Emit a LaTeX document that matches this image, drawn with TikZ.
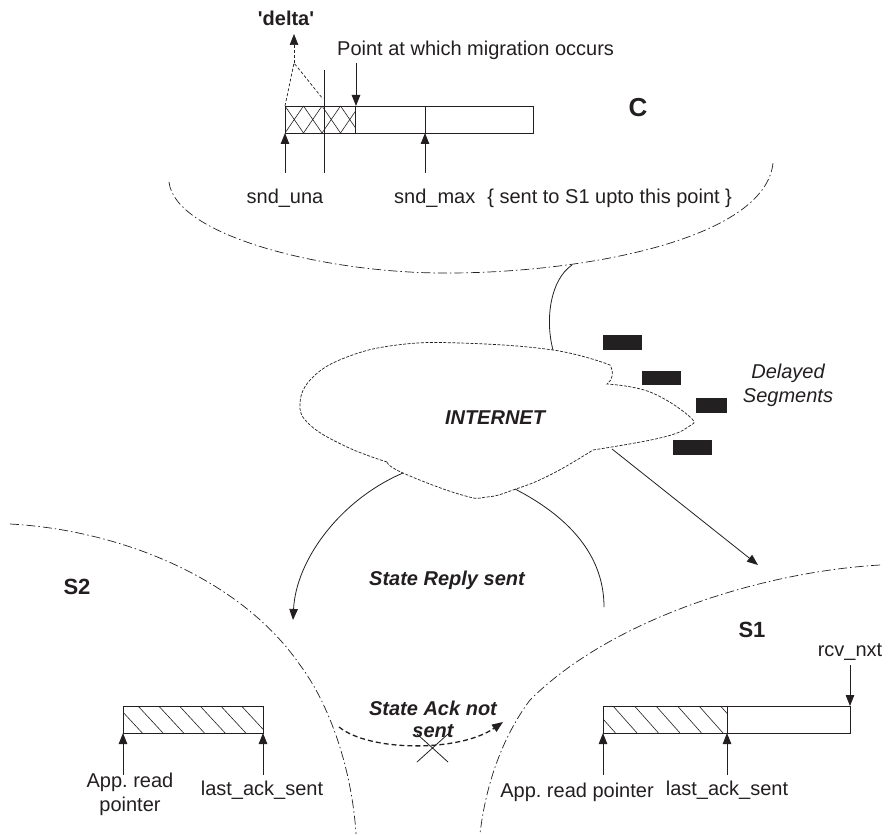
\documentclass[tikz,border=0pt]{standalone}
\usepackage{fontspec}
\setmainfont{Liberation Sans}
\usetikzlibrary{arrows.meta}
\definecolor{ink}{RGB}{35,31,32}
\definecolor{segc}{RGB}{34,32,33}
\frenchspacing
\begin{document}
\begin{tikzpicture}[x=1pt,y=-1pt,
  txt/.style={font=\fontsize{20}{24}\selectfont, text=ink, inner sep=0pt},
  bld/.style={font=\fontsize{20}{24}\selectfont\bfseries, text=ink, inner sep=0pt},
  bit/.style={font=\fontsize{20}{24}\selectfont\bfseries\itshape, text=ink, inner sep=0pt},
  itl/.style={font=\fontsize{20}{24}\selectfont\itshape, text=ink, inner sep=0pt, align=center},
  big/.style={font=\fontsize{22}{26}\selectfont\bfseries, text=ink, inner sep=0pt},
  line/.style={draw=ink, line width=0.8pt},
  hatch/.style={draw=ink, line width=0.6pt},
  tip/.style={-{Triangle[length=11pt,width=8.5pt]}},
  dashdot/.style={draw=ink, line width=0.7pt, dash pattern=on 9pt off 3pt on 1.5pt off 3pt},
  dl/.style={draw=ink, line width=0.7pt, dash pattern=on 3pt off 2pt},
  cloudline/.style={draw=ink, line width=0.7pt, dash pattern=on 3pt off 1.5pt},
  ackline/.style={draw=ink, line width=1.3pt, dash pattern=on 5pt off 3pt},
  seg/.style={fill=segc}
]
\useasboundingbox (0,0) rectangle (890,834);

% ---------------- C side ----------------
\node[font=\fontsize{26}{30}\selectfont\bfseries, text=ink, inner sep=0pt] (C) at (638,108) {C};
\node[bld] (delta) at (286,18) {\textquotesingle delta\textquotesingle};
\node[txt, anchor=west] (pam) at (337,50) {Point at which migration occurs};
\node[txt] (sndu) at (285,198) {snd\_una};
\node[txt, anchor=west] (sndm) at (394,198) {snd\_max\hspace{0.6em}\{ sent to S1 upto this point \}};

% cross-hatched part
\begin{scope}
  \clip (285,106) rectangle (355,133);
  \foreach \k in {-1,...,5} {
    \draw[hatch] ({285+18.5*\k},106) -- ++(18.5,27);
    \draw[hatch] ({285+18.5*\k},106) -- ++(-18.5,27);
  }
\end{scope}
\draw[line] (285,106) rectangle (533,133);
\draw[line] (355,106) -- (355,133);

\coordinate (dApex) at (294,63);
\coordinate (dTip) at (294,34);
\draw[dl, tip] (dApex) -- (dTip);
\draw[dl] (285,106) -- (dApex) -- (323,99);

\draw[line] (324,70) -- (324,173);
\draw[line, tip] (356,63) -- (356,106);
\draw[line, tip] (285,173) -- (285,133);
\draw[line, tip] (425,173) -- (425,133);
\draw[line] (425,133) -- (425,106);

% C boundary arc
\coordinate (arcJoin) at (572,265);
\draw[dashdot] (169,182) .. controls (175,235) and (320,272) .. (440,273)
               .. controls (580,274) and (765,240) .. (773,163);

% ---------------- Internet ----------------
\coordinate (cTop) at (553,350);
\draw[line] (arcJoin) .. controls (550,280) and (545,320) .. (cTop);

\draw[cloudline] (387,462)
  plot[smooth, tension=0.7] coordinates {(387,462) (347,447) (310,425) (300,403) (313,377) (347,357) (397,345) (460,343) (553,350) (610,365)}
  .. controls (614,372) and (613,380) .. (607,384)
  -- plot[smooth, tension=0.7] coordinates {(607,384) (650,392) (690,417) (688,427) (660,438) (593,450)}
  -- plot[smooth, tension=0.8] coordinates {(593,450) (550,475) (513,490) (487,497) (462,495) (403,473) (387,462)};
\node[bit] (net) at (495,418) {INTERNET};

% delayed segments
\path[seg] (603,335) rectangle (642,350);
\path[seg] (642,371) rectangle (681,385);
\path[seg] (696,398) rectangle (727,413);
\path[seg] (673,440) rectangle (712,455);
\node[itl] (delayed) at (788,385) {Delayed\\Segments};

% connectors out of the cloud
\coordinate (cl) at (403,473);
\coordinate (s2tip) at (293,620);
\draw[line, tip] (cl) .. controls (340,500) and (296,560) .. (s2tip);
\coordinate (cr) at (515,489);
\coordinate (crEnd) at (604,607);
\draw[line] (cr) .. controls (575,520) and (604,560) .. (crEnd);
\coordinate (cs) at (612,449);
\coordinate (s1tip) at (758,565);
\draw[line, tip] (cs) -- (s1tip);

\node[bit] (reply) at (447,580) {State Reply sent};

% ---------------- S2 / S1 boundaries ----------------
\draw[dashdot] (10,524) .. controls (120,530) and (240,578) .. (300,665)
               .. controls (330,705) and (352,770) .. (356,834);
\draw[dashdot] (880,565) .. controls (760,572) and (610,620) .. (530,700)
               .. controls (500,740) and (485,790) .. (480,834);

\node[big] (S2) at (77,587) {S2};
\node[big] (S1) at (752,630) {S1};

% State Ack not sent
\node[bit] (ack1) at (433,708) {State Ack not};
\node[bit] (ack2) at (433,731) {sent};
\coordinate (ackS) at (339,727);
\coordinate (ackE) at (503,722);
\draw[ackline, tip] (ackS) .. controls (370,752) and (460,752) .. (ackE);
\draw[line] (417,734) -- (448,762) (448,734) -- (417,762);

% ---------------- S2 buffer ----------------
\begin{scope}
  \clip (123,706) rectangle (263,733);
  \foreach \k in {-2,...,7} {
    \draw[hatch] ({138+20.7*\k},706) -- ++(25,27);
  }
\end{scope}
\draw[line] (123,706) rectangle (263,733);
\draw[line, tip] (123,775) -- (123,733);
\draw[line, tip] (263,775) -- (263,733);
\node[txt, align=center] (app2) at (130,794) {App. read\\pointer};
\node[txt] (las2) at (262,790) {last\_ack\_sent};

% ---------------- S1 buffer ----------------
\begin{scope}
  \clip (603,706) rectangle (727,733);
  \foreach \k in {-2,...,6} {
    \draw[hatch] ({613+21.5*\k},706) -- ++(24,27);
  }
\end{scope}
\draw[line] (603,706) rectangle (850,733);
\draw[line] (727,706) -- (727,733);
\draw[line, tip] (603,775) -- (603,733);
\draw[line, tip] (727,775) -- (727,733);
\node[txt] (rcv) at (850,652) {rcv\_nxt};
\draw[line, tip] (850,665) -- (850,706);
\node[txt] (app1) at (577,792) {App. read pointer};
\node[txt] (las1) at (727,790) {last\_ack\_sent};
\end{tikzpicture}
\end{document}
